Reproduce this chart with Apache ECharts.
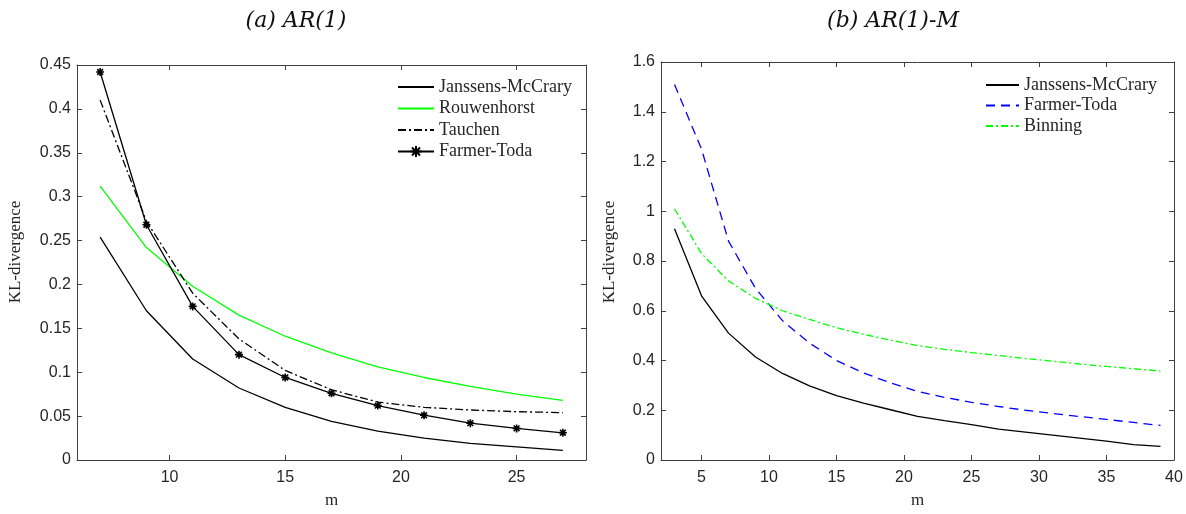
<!DOCTYPE html>
<html>
<head>
<meta charset="utf-8">
<script src="https://cdn.jsdelivr.net/npm/echarts@6/dist/echarts.min.js"></script>
<style>
html,body{margin:0;padding:0;background:#fff;}
#c{width:1186px;height:514px;}
</style>
</head>
<body>
<div id="c"></div>
<script>
// ---- data (a) AR(1) ----
const mA = [7, 9, 11, 13, 15, 17, 19, 21, 23, 25, 27];
const jmA = [0.254, 0.170, 0.115, 0.082, 0.060, 0.044, 0.033, 0.025, 0.019, 0.015, 0.011];
const rouwA = [0.312, 0.242, 0.198, 0.165, 0.141, 0.122, 0.106, 0.094, 0.084, 0.075, 0.068];
const tauchA = [0.410, 0.272, 0.190, 0.138, 0.102, 0.080, 0.066, 0.060, 0.057, 0.055, 0.054];
const ftA = [0.442, 0.268, 0.175, 0.120, 0.094, 0.076, 0.062, 0.051, 0.042, 0.036, 0.031];
const xTicksA = [10, 15, 20, 25];

// ---- data (b) AR(1)-M ----
const mB = [3, 5, 7, 9, 11, 13, 15, 17, 19, 21, 23, 25, 27, 29, 31, 33, 35, 37, 39];
const jmB = [0.93, 0.66, 0.51, 0.414, 0.348, 0.298, 0.259, 0.229, 0.202, 0.175, 0.158, 0.142, 0.124, 0.112, 0.100, 0.088, 0.076, 0.062, 0.055];
const ftB = [1.51, 1.25, 0.88, 0.69, 0.56, 0.47, 0.40, 0.35, 0.31, 0.276, 0.252, 0.232, 0.215, 0.200, 0.187, 0.175, 0.163, 0.151, 0.139];
const binB = [1.01, 0.83, 0.72, 0.65, 0.60, 0.565, 0.532, 0.505, 0.482, 0.46, 0.445, 0.432, 0.42, 0.408, 0.397, 0.386, 0.376, 0.367, 0.358];
const xTicksB = [5, 10, 15, 20, 25, 30, 35, 40];

const namesA = ['Janssens-McCrary', 'Rouwenhorst', 'Tauchen', 'Farmer-Toda'];
const namesB = ['Janssens-McCrary', 'Farmer-Toda', 'Binning'];
const titleA = '(a) AR(1)';
const titleB = '(b) AR(1)-M';
const yName = 'KL-divergence';
const xName = 'm';

const pairs = (xs, ys) => xs.map((x, i) => [x, ys[i]]);
const axisCol = '#404040';
const txtCol = '#262626';
const tickFont = {fontFamily: 'Liberation Sans', fontSize: 16, color: txtCol};
const serif = 'Liberation Serif';

function xAx(gi, min, max, ticks, main) {
  return {
    type: 'value', gridIndex: gi, min: min, max: max,
    position: main ? 'bottom' : 'top',
    name: main ? xName : '', nameLocation: 'middle', nameGap: 32,
    nameTextStyle: {fontFamily: serif, fontSize: 17, color: txtCol},
    axisLine: {show: true, onZero: false, lineStyle: {color: axisCol, width: 1}},
    axisTick: {show: true, inside: true, length: 5, customValues: ticks, lineStyle: {color: axisCol}},
    axisLabel: main ? Object.assign({show: true, margin: 10, customValues: ticks}, tickFont) : {show: false},
    splitLine: {show: false}
  };
}
function yAx(gi, max, interval, main) {
  return {
    type: 'value', gridIndex: gi, min: 0, max: max, interval: interval,
    position: main ? 'left' : 'right',
    axisLine: {show: true, onZero: false, lineStyle: {color: axisCol, width: 1}},
    axisTick: {show: true, inside: true, length: 5, lineStyle: {color: axisCol}},
    axisLabel: main ? Object.assign({show: true, margin: 6}, tickFont) : {show: false},
    splitLine: {show: false}
  };
}

const star = 'path://M0,-5L0,5M-5,0L5,0M-3.6,-3.6L3.6,3.6M-3.6,3.6L3.6,-3.6';
const legendText = {fontFamily: serif, fontSize: 18, lineHeight: 16, color: txtCol};

const chart = echarts.init(document.getElementById('c'), null, {renderer: 'canvas'});
chart.setOption({
  animation: false,
  backgroundColor: '#fff',
  grid: [
    {left: 77, top: 65, width: 509, height: 401, containLabel: false},
    {left: 661, top: 62, width: 513, height: 404, containLabel: false}
  ],
  xAxis: [
    xAx(0, 6, 28, xTicksA, true), xAx(0, 6, 28, xTicksA, false),
    xAx(1, 2, 40, xTicksB, true), xAx(1, 2, 40, xTicksB, false)
  ],
  yAxis: [
    yAx(0, 0.45, 0.05, true), yAx(0, 0.45, 0.05, false),
    yAx(1, 1.6, 0.2, true), yAx(1, 1.6, 0.2, false)
  ],
  legend: [
    {
      data: namesA, orient: 'vertical', left: 397, top: 78, padding: 0,
      itemWidth: 36, itemHeight: 14, itemGap: 3.5,
      textStyle: legendText,
      selectedMode: false
    },
    {
      data: namesB.map(n => 'b:' + n), orient: 'vertical', left: 985, top: 76, padding: 0,
      itemWidth: 33, itemHeight: 14, itemGap: 2.5,
      formatter: n => n.replace(/^b:/, ''),
      textStyle: legendText,
      selectedMode: false
    }
  ],
  graphic: [
    {type: 'text', x: 296, y: 21, style: {text: titleA, fontFamily: 'DejaVu Serif', fontStyle: 'italic', fontSize: 22, fill: '#111', align: 'center', verticalAlign: 'middle'}},
    {type: 'text', x: 893, y: 21, style: {text: titleB, fontFamily: 'DejaVu Serif', fontStyle: 'italic', fontSize: 22, fill: '#111', align: 'center', verticalAlign: 'middle'}},
    {type: 'text', x: 16, y: 252, rotation: Math.PI / 2, style: {text: yName, fontFamily: serif, fontSize: 17, fill: txtCol, align: 'center', verticalAlign: 'middle'}},
    {type: 'text', x: 610, y: 252, rotation: Math.PI / 2, style: {text: yName, fontFamily: serif, fontSize: 17, fill: txtCol, align: 'center', verticalAlign: 'middle'}}
  ],
  series: [
    {name: namesA[0], type: 'line', xAxisIndex: 0, yAxisIndex: 0, data: pairs(mA, jmA),
      symbol: 'none', lineStyle: {color: '#000', width: 1.3}, itemStyle: {color: '#000', opacity: 0}},
    {name: namesA[1], type: 'line', xAxisIndex: 0, yAxisIndex: 0, data: pairs(mA, rouwA),
      symbol: 'none', lineStyle: {color: '#00ff00', width: 1.3}, itemStyle: {color: '#00ff00', opacity: 0}},
    {name: namesA[2], type: 'line', xAxisIndex: 0, yAxisIndex: 0, data: pairs(mA, tauchA),
      symbol: 'none', lineStyle: {color: '#000', width: 1.3, type: [8, 3, 2, 3]}, itemStyle: {color: '#000', opacity: 0}},
    {name: namesA[3], type: 'line', xAxisIndex: 0, yAxisIndex: 0, data: pairs(mA, ftA),
      symbol: star, symbolSize: 8, showSymbol: true,
      lineStyle: {color: '#000', width: 1.3}, itemStyle: {color: '#000', borderColor: '#000', borderWidth: 1.6}},
    {name: 'b:' + namesB[0], type: 'line', xAxisIndex: 2, yAxisIndex: 2, data: pairs(mB, jmB),
      symbol: 'none', lineStyle: {color: '#000', width: 1.3}, itemStyle: {color: '#000', opacity: 0}},
    {name: 'b:' + namesB[1], type: 'line', xAxisIndex: 2, yAxisIndex: 2, data: pairs(mB, ftB),
      symbol: 'none', lineStyle: {color: '#0000ff', width: 1.3, type: [9, 6]}, itemStyle: {color: '#0000ff', opacity: 0}},
    {name: 'b:' + namesB[2], type: 'line', xAxisIndex: 2, yAxisIndex: 2, data: pairs(mB, binB),
      symbol: 'none', lineStyle: {color: '#00ff00', width: 1.3, type: [7, 3, 2, 3]}, itemStyle: {color: '#00ff00', opacity: 0}}
  ]
});
</script>
</body>
</html>
